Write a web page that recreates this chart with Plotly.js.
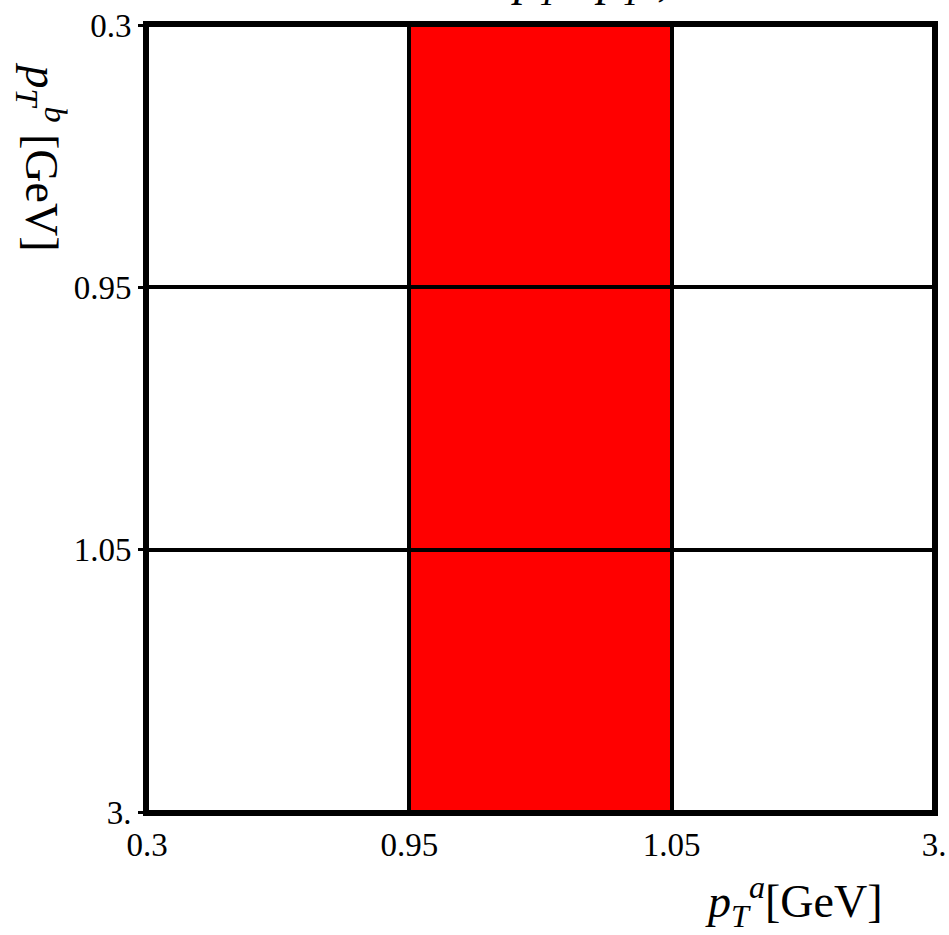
<!DOCTYPE html>
<html>
<head>
<meta charset="utf-8">
<script src="https://cdn.plot.ly/plotly-3.0.1.min.js"></script>
<style>html,body{margin:0;padding:0;background:#fff;}#chart{width:949px;height:935px;}</style>
</head>
<body>
<div id="chart"></div>
<script>
// Bin edges (as displayed) for p_T^a (x) and p_T^b (y)
const binEdgeLabels = ['0.3', '0.95', '1.05', '3.'];
const binEdgeIndex = [0, 1, 2, 3];
// Selected region: 1 = inside (red), 0 = outside; rows = p_T^b bins, columns = p_T^a bins
const inRegion = [
  [0, 1, 0],
  [0, 1, 0],
  [0, 1, 0]
];

const serif = "'Liberation Serif', 'Times New Roman', serif";

const trace = {
  type: 'heatmap',
  x: binEdgeIndex,
  y: binEdgeIndex,
  z: inRegion,
  zmin: 0, zmax: 1,
  colorscale: [[0, '#ffffff'], [1, '#ff0000']],
  showscale: false,
  xgap: 4, ygap: 4,
  hoverinfo: 'skip'
};

const layout = {
  width: 949, height: 935,
  margin: {l: 147, r: 15, t: 25, b: 123},
  paper_bgcolor: '#ffffff',
  plot_bgcolor: '#000000',
  showlegend: false,
  font: {family: serif, color: '#000', size: 33},
  xaxis: {
    range: [0, 3],
    tickmode: 'array', tickvals: binEdgeIndex, ticktext: binEdgeLabels,
    showgrid: false, zeroline: false,
    showline: true, linecolor: '#000', linewidth: 4, mirror: true,
    ticks: '', ticklen: 0,
    tickfont: {family: serif, size: 33, color: '#000'},
    fixedrange: true
  },
  yaxis: {
    range: [3, 0],
    tickmode: 'array', tickvals: binEdgeIndex, ticktext: binEdgeLabels,
    showgrid: false, zeroline: false,
    showline: true, linecolor: '#000', linewidth: 4, mirror: true,
    ticks: 'outside', ticklen: 5, tickwidth: 3, tickcolor: '#000',
    tickfont: {family: serif, size: 33, color: '#000'},
    fixedrange: true
  },
  annotations: [
    {
      xref: 'paper', yref: 'paper', x: 0.938, y: -0.07,
      xanchor: 'right', yanchor: 'top', showarrow: false,
      text: '<i>p</i><sub><i>T</i></sub><sup><i>a</i></sup>[GeV]',
      font: {family: serif, size: 46, color: '#000'}
    },
    {
      xref: 'paper', yref: 'paper', x: -0.178, y: 0.955,
      xanchor: 'left', yanchor: 'top', showarrow: false, textangle: 90,
      text: '<i>p</i><sub><i>T</i></sub><sup><i>b</i></sup> [GeV]',
      font: {family: serif, size: 46, color: '#000'}
    },
    {
      xref: 'paper', yref: 'paper', x: 0.46, y: 1.0135,
      xanchor: 'left', yanchor: 'bottom', showarrow: false,
      text: '<i>p</i><sub><i>T</i></sub><sup><i>a</i></sup>  <i>p</i><sub><i>T</i></sub><sup><i>b</i></sup>,',
      font: {family: serif, size: 48, color: '#000'}
    }
  ]
};

Plotly.newPlot('chart', [trace], layout, {displayModeBar: false, staticPlot: true});
</script>
</body>
</html>
